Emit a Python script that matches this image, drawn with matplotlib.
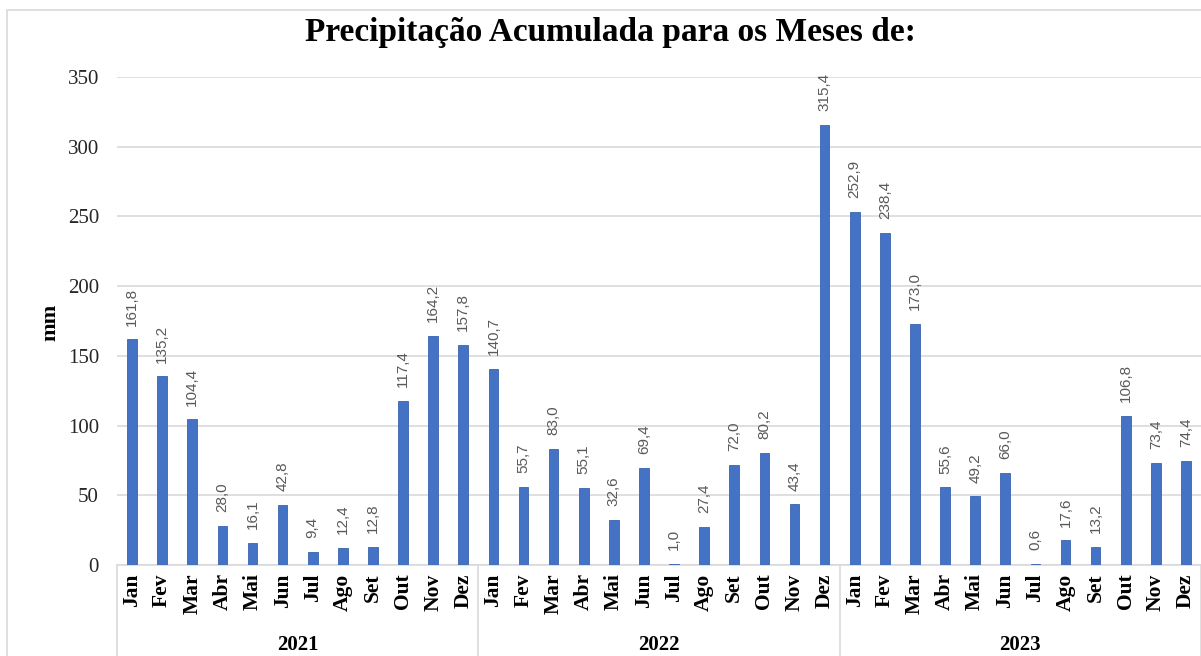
import matplotlib
matplotlib.use("Agg")
import matplotlib.pyplot as plt
from matplotlib.patches import Rectangle

months = ["Jan", "Fev", "Mar", "Abr", "Mai", "Jun",
          "Jul", "Ago", "Set", "Out", "Nov", "Dez"]
years = ["2021", "2022", "2023"]
rain_2021 = [161.8, 135.2, 104.4, 28.0, 16.1, 42.8, 9.4, 12.4, 12.8, 117.4, 164.2, 157.8]
rain_2022 = [140.7, 55.7, 83.0, 55.1, 32.6, 69.4, 1.0, 27.4, 72.0, 80.2, 43.4, 315.4]
rain_2023 = [252.9, 238.4, 173.0, 55.6, 49.2, 66.0, 0.6, 17.6, 13.2, 106.8, 73.4, 74.4]

values = rain_2021 + rain_2022 + rain_2023
labels = months * len(years)
x = list(range(len(values)))

SERIF = "Liberation Serif"
SANS = "Liberation Sans"
C_BAR = "#4472C4"
C_GRID = "#d9d9d9"

fig = plt.figure(figsize=(12.01, 6.56), dpi=100)
ax = fig.add_axes([117 / 1201, (656 - 565) / 656, 1 - 117 / 1201, (565 - 77) / 656])

ax.bar(x, values, width=0.32, color=C_BAR, edgecolor="#3a64b0", linewidth=0.6, zorder=3)

for xi, v in zip(x, values):
    ax.annotate(f"{v:.1f}".replace(".", ","), xy=(xi, v), xytext=(0, 10),
                textcoords="offset points", rotation=90, ha="center", va="bottom",
                fontsize=11, family=SANS, color="#595959")

ax.set_xlim(-0.5, len(values) - 0.5)
ax.set_ylim(0, 350)
ax.set_yticks(range(0, 351, 50))
ax.set_yticklabels([str(t) for t in range(0, 351, 50)], family=SERIF, fontsize=15, color="#262626")
ax.set_xticks(x)
ax.set_xticklabels(labels, rotation=90, family=SERIF, fontsize=15.5, weight="bold",
                   va="top", ha="center")
ax.tick_params(axis="both", length=0)
ax.tick_params(axis="x", pad=6)
ax.tick_params(axis="y", pad=13)
ax.grid(axis="y", color=C_GRID, linewidth=1.2, zorder=0)
ax.set_axisbelow(True)
for s in ["top", "right", "left"]:
    ax.spines[s].set_visible(False)
ax.spines["bottom"].set_color(C_GRID)
ax.spines["bottom"].set_linewidth(1.2)

ax.set_ylabel("mm", family=SERIF, fontsize=16, weight="bold", va="center")
ax.yaxis.set_label_coords((50 - 117) / (1201 - 117), (565 - 322) / (565 - 77))

# category box: year separators and year labels
trans = ax.get_xaxis_transform()
for i in range(len(years) + 1):
    xb = i * 12 - 0.5
    ax.plot([xb, xb], [0, -0.2], transform=trans, color=C_GRID, lw=1.2, clip_on=False)
for i, y in enumerate(years):
    ax.text(i * 12 + 5.5, -0.163, y, transform=trans, ha="center", va="center",
            family=SERIF, fontsize=15, weight="bold")

fig.text(0.508, (656 - 33) / 656, "Precipitação Acumulada para os Meses de:",
         ha="center", va="center", family=SERIF, fontsize=24, weight="bold")

# outer chart border
fig.patches.append(Rectangle((7 / 1201, -0.1), 1.2, (656 - 10) / 656 + 0.1,
                             transform=fig.transFigure, fill=False,
                             edgecolor=C_GRID, linewidth=1.2))

fig.savefig("out.png", dpi=100, facecolor="white")
